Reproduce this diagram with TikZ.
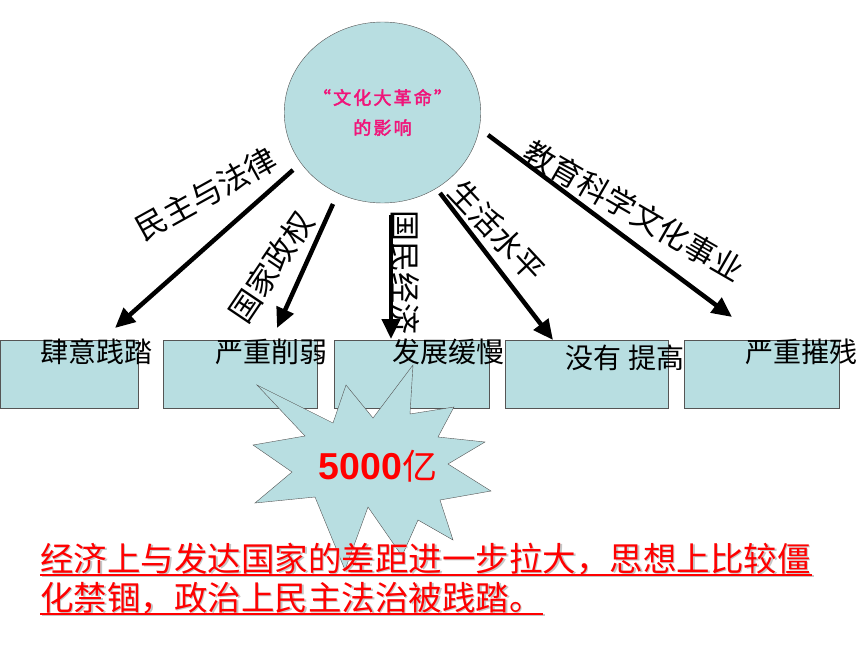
\documentclass[tikz,border=0pt]{standalone}
\usepackage{fontspec}
\newfontfamily\cjk{Noto Sans CJK SC}
\newfontfamily\cjkwide[LetterSpace=12, AutoFakeBold=2.5]{Noto Sans CJK SC}
\newfontfamily\numfont{Liberation Sans}
\usetikzlibrary{arrows.meta,positioning,shapes.geometric}
\definecolor{paleblue}{HTML}{B8DEE1}
\definecolor{hotpink}{HTML}{F0157A}
\definecolor{edgegray}{HTML}{555555}
\tikzset{
	bigarrow/.style={line width=4.5pt, -{Triangle[length=20pt,width=18pt]}},
	box/.style={draw=edgegray, fill=paleblue, anchor=north west, minimum height=68pt, inner sep=0pt},
	boxtext/.style={font=\cjk\fontsize{28}{30}\selectfont, inner sep=0pt},
	armtext/.style={font=\cjk\fontsize{31}{33}\selectfont, inner sep=0pt},
	redtext/.style={font=\cjk\fontsize{33.5}{36}\selectfont, text=red, inner sep=0pt, anchor=west},
}
\begin{document}
\begin{tikzpicture}[x=1pt, y=-1pt]
		\useasboundingbox (0, 0) rectangle (860, 645);
		% centre
		\node[ellipse, draw=edgegray, fill=paleblue, minimum width=195pt, minimum height=181pt, inner sep=0pt, align=center, text=hotpink, font=\cjkwide\bfseries\fontsize{18}{30}\selectfont] (imp) at (382.5, 112.5) {“文化大革命”\\的影响};
		% boxes
		\node[box, minimum width=138pt] (b_law) at (0, 340) {};
		\node[box, minimum width=154pt] (b_state) at (163, 340) {};
		\node[box, minimum width=155pt] (b_econ) at (334, 340) {};
		\node[box, minimum width=163pt] (b_life) at (505, 340) {};
		\node[box, minimum width=155pt] (b_edu) at (684, 340) {};
		% arrows
		\coordinate (s_law) at (293, 170);
		\coordinate (t_law) at (115, 328);
		\coordinate (s_state) at (333, 204);
		\coordinate (t_state) at (277, 328);
		\coordinate (s_econ) at (391, 215);
		\coordinate (t_econ) at (391, 339);
		\coordinate (s_life) at (440, 193);
		\coordinate (t_life) at (553, 340);
		\coordinate (s_edu) at (488, 135);
		\coordinate (t_edu) at (732, 317);
		\draw[bigarrow] (s_law) -- (t_law);
		\draw[bigarrow] (s_state) -- (t_state);
		\draw[bigarrow] (s_econ) -- (t_econ);
		\draw[bigarrow] (s_life) -- (t_life);
		\draw[bigarrow] (s_edu) -- (t_edu);
		\node[armtext, rotate=29] (a_law) at (206, 194) {民主与法律};
		\node[armtext, rotate=56] (a_state) at (271, 267) {国家政权};
		\node[armtext, rotate=-90] (a_econ) at (405, 272) {国民经济};
		\node[armtext, rotate=-47] (a_life) at (497, 231) {生活水平};
		\node[armtext, rotate=-30] (a_edu) at (634, 211) {教育科学文化事业};
		% burst
		\draw[edgegray, fill=paleblue] (253,445) -- (305,436) -- (257,385) -- (333,423) -- (346,385) -- (373,418) -- (413,365) -- (410,414) -- (454,407) -- (438,437) -- (485,442) -- (448,464) -- (491,491) -- (440,500) -- (453,540) -- (418,520) -- (402,556) -- (368,507) -- (345,570) -- (315,497) -- (255,503) -- (292,472) -- cycle;
		\node[text=red, inner sep=0pt] (loss) at (378, 466) {{\numfont\bfseries\fontsize{37.5}{40}\selectfont 5000}{\cjk\fontsize{35}{40}\selectfont 亿}};
		% box labels
		\node[boxtext] (l_law) at (96, 352) {肆意践踏};
		\node[boxtext] (l_state) at (271, 352) {严重削弱};
		\node[boxtext] (l_econ) at (448, 352) {发展缓慢};
		\node[boxtext] (l_life) at (625, 358) {没有 提高};
		\node[boxtext] (l_edu) at (801, 352) {严重摧残};
		% conclusion
		\node[redtext, text=gray!45] at (41.5, 560.5) {经济上与发达国家的差距进一步拉大，思想上比较僵};
		\node[redtext, text=gray!45] at (41.5, 599.5) {化禁锢，政治上民主法治被践踏。};
		\draw[gray!45, line width=2pt] (41.5, 576) -- (813.5, 576);
		\draw[gray!45, line width=2pt] (41.5, 615) -- (544.5, 615);
		\node[redtext] (sum1) at (40, 559) {经济上与发达国家的差距进一步拉大，思想上比较僵};
		\node[redtext] (sum2) at (40, 598) {化禁锢，政治上民主法治被践踏。};
		\draw[red, line width=2pt] (40, 574.5) -- (812, 574.5);
		\draw[red, line width=2pt] (40, 613.5) -- (543, 613.5);
	\end{tikzpicture}
\end{document}
